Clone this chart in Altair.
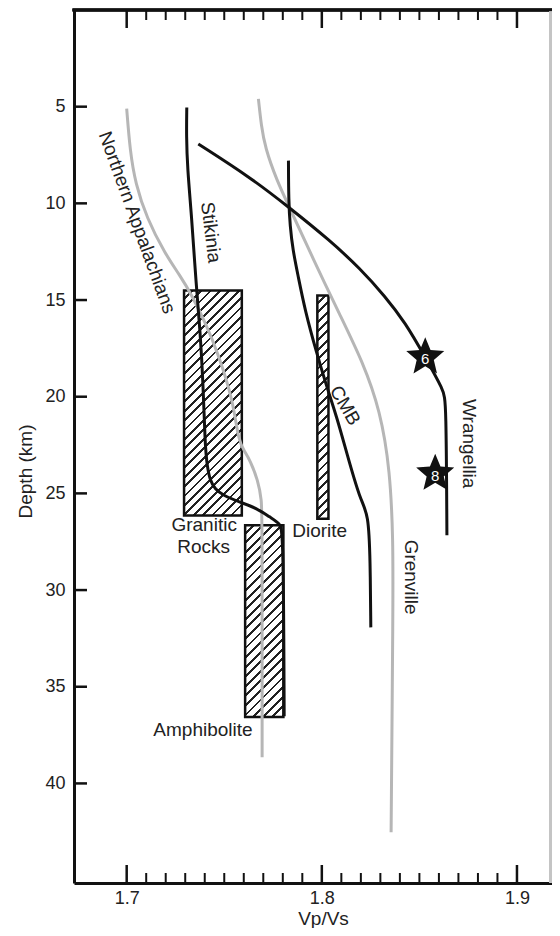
import math
import altair as alt
import pandas as pd

# ---------------- data ----------------
NA_VPVS = [1.7000, 1.7017, 1.7045, 1.7102, 1.7196, 1.7273, 1.7335, 1.7402, 1.7463, 1.7546,
           1.7571, 1.7607, 1.7632, 1.7673, 1.7692, 1.7694, 1.7694]
NA_DEPTH = [5.10, 7.27, 8.98, 10.74, 12.60, 13.73, 14.77, 16.16, 17.61, 20.19,
            22.26, 22.88, 23.29, 24.33, 25.36, 26.40, 38.64]

GREN_VPVS = [1.7675, 1.7690, 1.7709, 1.7769, 1.7837, 1.7955, 1.8094, 1.8211, 1.8299, 1.8350,
             1.8365, 1.8365, 1.8355]
GREN_DEPTH = [4.60, 6.00, 7.10, 8.82, 10.27, 12.86, 15.80, 18.23, 20.71, 23.81,
              27.43, 30.53, 42.52]

STIK_VPVS = [1.7308, 1.7306, 1.7311, 1.7333, 1.7350, 1.7359, 1.7376, 1.7391, 1.7402, 1.7413,
             1.7427, 1.7453, 1.7494, 1.7581, 1.7668, 1.7735, 1.7786, 1.7803, 1.7807]
STIK_DEPTH = [5.04, 6.50, 8.14, 10.72, 13.30, 14.51, 16.58, 19.16, 22.62, 23.61,
              24.33, 24.79, 25.10, 25.46, 25.77, 26.24, 26.55, 27.07, 36.52]

WRAN_VPVS = [1.7367, 1.7632, 1.7821, 1.8043, 1.8196, 1.8325, 1.8427, 1.8530, 1.8624, 1.8637,
             1.8641]
WRAN_DEPTH = [6.93, 8.65, 10.12, 11.93, 13.37, 14.82, 16.16, 17.96, 19.68, 20.20,
              27.17]

CMB_VPVS = [1.7829, 1.7830, 1.7837, 1.7852, 1.7878, 1.7914, 1.7974, 1.8026, 1.8077, 1.8128,
            1.8197, 1.8239, 1.8248, 1.8251]
CMB_DEPTH = [7.79, 9.86, 11.15, 12.44, 13.73, 15.54, 17.76, 19.51, 21.06, 22.93,
             25.36, 26.03, 28.46, 31.93]

BOX_NAMES = ["Granitic Rocks", "Diorite", "Amphibolite"]
BOX_VPVS_LO = [1.7294, 1.7977, 1.7607]
BOX_VPVS_HI = [1.7590, 1.8034, 1.7803]
BOX_DEPTH_TOP = [14.51, 14.77, 26.65]
BOX_DEPTH_BOT = [26.14, 26.31, 36.56]

STAR_LABELS = ["6", "8"]
STAR_VPVS = [1.8530, 1.8581]
STAR_DEPTH = [17.96, 23.98]

LABEL_TEXT = ["Northern Appalachians", "Stikinia", "CMB", "Wrangellia", "Grenville",
              "Granitic", "Rocks", "Diorite", "Amphibolite"]
LABEL_VPVS = [1.7053, 1.7431, 1.8119, 1.8755, 1.8458, 1.7397, 1.7394, 1.7989, 1.7391]
LABEL_DEPTH = [10.99, 11.50, 20.45, 22.43, 29.33, 26.65, 27.77, 26.94, 37.25]
LABEL_ANGLE = [70, 83, 60, 90, 90, 0, 0, 0, 0]

X_MAJOR = [1.7, 1.8, 1.9]
X_MINOR = [1.71, 1.72, 1.73, 1.74, 1.75, 1.76, 1.77, 1.78, 1.79,
           1.81, 1.82, 1.83, 1.84, 1.85, 1.86, 1.87, 1.88, 1.89]
Y_TICKS = [5, 10, 15, 20, 25, 30, 35, 40]

# ---------------- layout / style ----------------
PXU = 1951.4                 # pixels per Vp/Vs unit
W, H = 478, 873
XDOM = [1.673, 1.673 + W / PXU]
YDOM = [0, 45.15]
FONT = "Liberation Sans"
INK = "#111111"
TXT = "#222222"
GRAY = "#b6b6b6"

xs = alt.Scale(domain=XDOM, nice=False, zero=False)
ys = alt.Scale(domain=YDOM, reverse=True, nice=False, zero=False)

AX_X = alt.Axis(values=X_MAJOR, format=".1f", ticks=False, grid=False,
                domainColor=INK, domainWidth=3,
                labelFont=FONT, labelFontSize=18, labelColor=TXT, labelPadding=6,
                title="Vp/Vs", titleFont=FONT, titleFontSize=19, titleFontWeight="normal",
                titleColor=TXT, titleX=249, titleY=41, titleAlign="center",
                titleBaseline="alphabetic")
AX_Y = alt.Axis(values=Y_TICKS, ticks=False, grid=False,
                domainColor=INK, domainWidth=3,
                labelFont=FONT, labelFontSize=18, labelColor=TXT, labelPadding=9,
                title="Depth (km)", titleFont=FONT, titleFontSize=19, titleFontWeight="normal",
                titleColor=TXT, titleX=-49, titleY=461, titleAngle=270, titleAlign="center",
                titleBaseline="middle")


def X(field="vpvs"):
    return alt.X(f"{field}:Q", scale=xs, axis=AX_X)


def Y(field="depth"):
    return alt.Y(f"{field}:Q", scale=ys, axis=AX_Y)


def curve_df(name, xv, yv):
    return pd.DataFrame({"series": name, "vpvs": xv, "depth": yv, "i": range(len(xv))})


gray_df = pd.concat([curve_df("Northern Appalachians", NA_VPVS, NA_DEPTH),
                     curve_df("Grenville", GREN_VPVS, GREN_DEPTH)])
black_df = pd.concat([curve_df("Stikinia", STIK_VPVS, STIK_DEPTH),
                      curve_df("Wrangellia", WRAN_VPVS, WRAN_DEPTH),
                      curve_df("CMB", CMB_VPVS, CMB_DEPTH)])

px_per_x = W / (XDOM[1] - XDOM[0])
px_per_y = H / (YDOM[1] - YDOM[0])


def hatch(w, h, period=9.5, frac=0.3):
    n = max(1, round((w + h) / period))
    stops = []
    for k in range(n):
        a = k / n
        b = (k + 1 - frac) / n
        c = (k + 1) / n
        stops += [alt.GradientStop(color="white", offset=a),
                  alt.GradientStop(color="white", offset=b),
                  alt.GradientStop(color="#222222", offset=b),
                  alt.GradientStop(color="#222222", offset=c)]
    s = (w + h) / (w * w + h * h)
    return alt.LinearGradient(gradient="linear", stops=stops, x1=0, y1=0, x2=w * s, y2=h * s)


box_layers = []
for k, name in enumerate(BOX_NAMES):
    bdf = pd.DataFrame({"box": [name], "vpvs": [BOX_VPVS_LO[k]], "vpvs2": [BOX_VPVS_HI[k]],
                        "depth": [BOX_DEPTH_TOP[k]], "depth2": [BOX_DEPTH_BOT[k]]})
    w = (BOX_VPVS_HI[k] - BOX_VPVS_LO[k]) * px_per_x
    h = (BOX_DEPTH_BOT[k] - BOX_DEPTH_TOP[k]) * px_per_y
    box_layers.append(
        alt.Chart(bdf).mark_rect(fill=hatch(w, h), stroke=INK, strokeWidth=2.5).encode(
            x=X(), x2="vpvs2:Q", y=Y(), y2="depth2:Q"))

gray_lines = alt.Chart(gray_df).mark_line(color=GRAY, strokeWidth=3,
                                          interpolate="basis").encode(
    x=X(), y=Y(), detail="series:N", order="i:Q")
black_lines = alt.Chart(black_df).mark_line(color=INK, strokeWidth=3,
                                            interpolate="basis").encode(
    x=X(), y=Y(), detail="series:N", order="i:Q")

# star symbol path (unit box)
pts = []
for j in range(10):
    r = 1.0 if j % 2 == 0 else 0.45
    ang = math.radians(-90 + 36 * j)
    pts.append(f"{r * math.cos(ang):.4f},{r * math.sin(ang):.4f}")
STAR_PATH = "M" + "L".join(pts) + "Z"

star_df = pd.DataFrame({"lab": STAR_LABELS, "vpvs": STAR_VPVS, "depth": STAR_DEPTH})
stars = alt.Chart(star_df).mark_point(shape=STAR_PATH, size=1600, filled=True, color=INK,
                                      opacity=1).encode(x=X(), y=Y())
star_text = alt.Chart(star_df).mark_text(font=FONT, fontSize=15, color="white", dy=2).encode(
    x=X(), y=Y(), text="lab:N")

lab_df = pd.DataFrame({"t": LABEL_TEXT, "vpvs": LABEL_VPVS, "depth": LABEL_DEPTH,
                       "angle": LABEL_ANGLE})
labels = alt.Chart(lab_df).mark_text(font=FONT, fontSize=19, color=TXT, align="center",
                                     baseline="middle").encode(
    x=X(), y=Y(), text="t:N", angle=alt.Angle("angle:Q", scale=None))

# ticks (inward), frame
xmaj = pd.DataFrame({"vpvs": X_MAJOR})
xmin = pd.DataFrame({"vpvs": X_MINOR})
ytk = pd.DataFrame({"depth": Y_TICKS})
ticks = [
    alt.Chart(xmaj).mark_rule(color=INK, strokeWidth=2.5).encode(
        x=X(), y=alt.value(H), y2=alt.value(H - 18)),
    alt.Chart(xmin).mark_rule(color=INK, strokeWidth=2).encode(
        x=X(), y=alt.value(H), y2=alt.value(H - 10)),
    alt.Chart(xmaj).mark_rule(color=INK, strokeWidth=2.5).encode(
        x=X(), y=alt.value(0), y2=alt.value(18)),
    alt.Chart(xmin).mark_rule(color=INK, strokeWidth=2).encode(
        x=X(), y=alt.value(0), y2=alt.value(10)),
    alt.Chart(ytk).mark_rule(color=INK, strokeWidth=2.5).encode(
        y=Y(), x=alt.value(0), x2=alt.value(13)),
]
top_line = alt.Chart(xmaj).mark_rule(color=INK, strokeWidth=3).encode(
    x=alt.value(-1.5), x2=alt.value(W), y=alt.value(0))
right_line = alt.Chart(xmaj).mark_rule(color="#c4c4c4", strokeWidth=3).encode(
    x=alt.value(W - 1.5), y=alt.value(1.5), y2=alt.value(H))

chart = alt.layer(
    *box_layers, gray_lines, black_lines, stars, star_text, labels, *ticks, top_line, right_line
).properties(
    width=W, height=H,
    autosize=alt.AutoSizeParams(type="none"),
    padding={"left": 66, "top": 2, "right": 0, "bottom": 45},
).configure_view(stroke=None).configure(background="white")

chart.save("out.html", embed_options={"renderer": "svg", "actions": False})
